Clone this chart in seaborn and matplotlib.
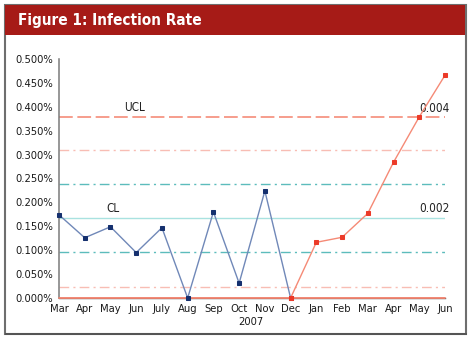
import matplotlib
matplotlib.use("Agg")
import matplotlib.pyplot as plt
import matplotlib.patches as mpatches
import matplotlib.transforms as mtransforms
import seaborn as sns
import numpy as np
import pandas as pd

months = ["Mar", "Apr", "May", "Jun", "July", "Aug", "Sep", "Oct", "Nov", "Dec",
          "Jan", "Feb", "Mar", "Apr", "May", "Jun"]
blue_values = [0.174, 0.126, 0.149, 0.095, 0.147, 0.000, 0.180, 0.031, 0.224, 0.000]
red_values = [0.000, 0.1165, 0.127, 0.177, 0.284, 0.379, 0.466]
ucl = 0.379
upper2 = 0.310
upper1 = 0.238
cl = 0.167
lower1 = 0.097
lower2 = 0.024
lcl = 0.000
yticks = [0.0, 0.05, 0.10, 0.15, 0.20, 0.25, 0.30, 0.35, 0.40, 0.45, 0.50]
year_label = "2007"
title = "Figure 1: Infection Rate"

sns.set_theme(style="white")
plt.rcParams["font.family"] = ["DejaVu Sans"]
plt.rcParams["font.stretch"] = "condensed"

fig = plt.figure(figsize=(4.69, 3.39), dpi=100)
fig.patch.set_facecolor("white")

# frame and header
W, H = 469.0, 339.0
frame = mpatches.Rectangle((4.5 / W, 1 - 333.5 / H), 461.5 / W, 329 / H,
                           transform=fig.transFigure, fill=False,
                           edgecolor="#6e6e6e", linewidth=1.5, zorder=0)
fig.patches.append(frame)
shadow = mpatches.Rectangle((4.5 / W, 1 - 335 / H), 462 / W, 2 / H,
                            transform=fig.transFigure, facecolor="#555555",
                            edgecolor="none", zorder=0)
fig.patches.append(shadow)
header = mpatches.Rectangle((5 / W, 1 - 35 / H), 460 / W, 30 / H,
                            transform=fig.transFigure, facecolor="#a61b17",
                            edgecolor="none", zorder=1)
fig.patches.append(header)
fig.text(18 / W, 1 - 20.5 / H, title, color="white", fontsize=11,
         fontweight="bold", fontstretch="condensed", va="center", ha="left",
         family=["DejaVu Sans"])

ax = fig.add_axes([59 / W, 1 - 298 / H, (445 - 59) / W, (298 - 59) / H])
ax.set_facecolor("none")

x_all = np.arange(len(months))
n_blue = len(blue_values)
x_blue = x_all[:n_blue]
x_red = x_all[n_blue - 1:n_blue - 1 + len(red_values)]

# control lines
ax.axhline(ucl, color="#f4836e", lw=1.1, ls=(0, (9, 3)), zorder=2)
ax.axhline(upper2, color="#f8bdb4", lw=1.0, ls=(0, (7, 3, 1.5, 3)), zorder=2)
ax.axhline(upper1, color="#5cbcbc", lw=1.0, ls=(0, (7, 3, 1.5, 3)), zorder=2)
ax.axhline(cl, color="#a9e2e0", lw=1.0, ls="-", zorder=2)
ax.axhline(lower1, color="#5cbcbc", lw=1.0, ls=(0, (7, 3, 1.5, 3)), zorder=2)
ax.axhline(lower2, color="#f8bdb4", lw=1.0, ls=(0, (7, 3, 1.5, 3)), zorder=2)
ax.axhline(lcl, color="#f4836e", lw=1.3, ls="-", zorder=3, clip_on=False)

sns.lineplot(x=x_blue, y=blue_values, ax=ax, color="#7088b8", lw=1.0,
             marker="s", markersize=3, markerfacecolor="#15306e",
             markeredgecolor="#15306e", zorder=4, clip_on=False)
sns.lineplot(x=x_red, y=red_values, ax=ax, color="#f58a76", lw=1.0,
             marker="s", markersize=3, markerfacecolor="#ec3a28",
             markeredgecolor="#ec3a28", zorder=5, clip_on=False)

ax.text(2.55, ucl + 0.006, "UCL", fontsize=8.5, color="#222222", ha="left", va="bottom")
ax.text(1.85, cl + 0.006, "CL", fontsize=8.5, color="#222222", ha="left", va="bottom")
ax.text(14.0, ucl + 0.004, "0.004", fontsize=8.5, color="#222222", ha="left", va="bottom")
ax.text(14.0, cl + 0.006, "0.002", fontsize=8.5, color="#222222", ha="left", va="bottom")

ax.set_xlim(0, len(months) - 1)
ax.set_ylim(0, 0.5)
ax.set_yticks(yticks)
ax.set_yticklabels([f"{v:.3f}%" for v in yticks], fontsize=8, color="#1a1a1a")
ax.set_xticks(x_all)
ax.set_xticklabels(months, fontsize=8, color="#1a1a1a")
ax.tick_params(axis="y", direction="out", length=3, width=0.8, color="#777777", pad=1)
ax.tick_params(axis="x", direction="inout", length=4, width=0.8, color="#777777", pad=2)
for s in ["top", "right"]:
    ax.spines[s].set_visible(False)
ax.spines["left"].set_color("#7a7a7a")
ax.spines["left"].set_linewidth(1.1)
ax.spines["bottom"].set_color("#555555")
ax.spines["bottom"].set_linewidth(1.0)
ax.set_xlabel("")
ax.set_ylabel("")

trans = mtransforms.blended_transform_factory(ax.transData, fig.transFigure)
ax.text(7.46, 1 - 322 / H, year_label, transform=trans, fontsize=8,
        color="#1a1a1a", ha="center", va="center")

fig.savefig("out.png", dpi=100, facecolor="white")
